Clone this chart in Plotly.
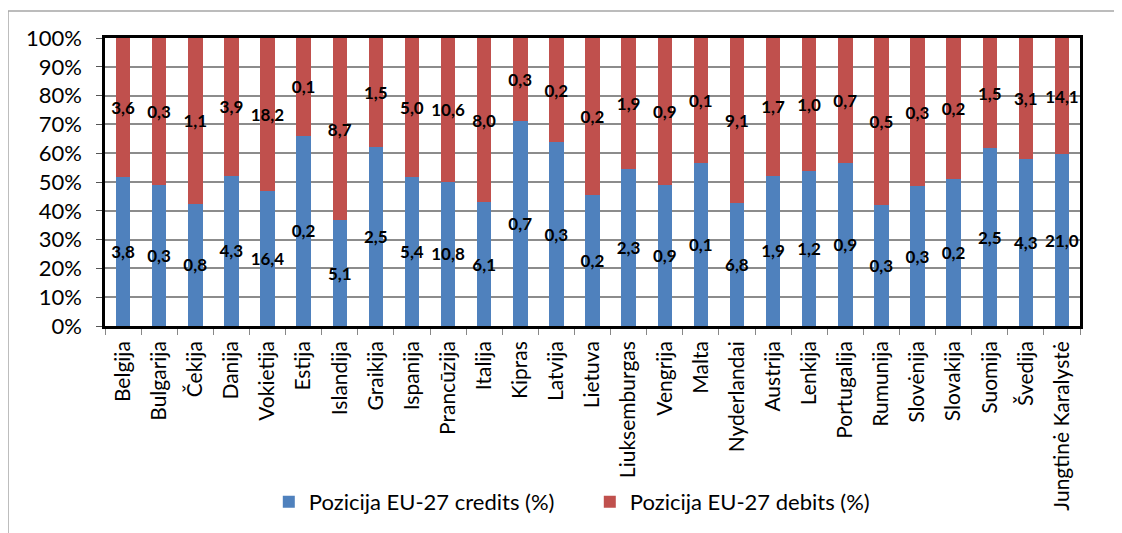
import plotly.graph_objects as go

countries = ["Belgija", "Bulgarija", "Čekija", "Danija", "Vokietija", "Estija", "Islandija",
             "Graikija", "Ispanija", "Prancūzija", "Italija", "Kipras", "Latvija", "Lietuva",
             "Liuksemburgas", "Vengrija", "Malta", "Nyderlandai", "Austrija", "Lenkija",
             "Portugalija", "Rumunija", "Slovėnija", "Slovakija", "Suomija", "Švedija",
             "Jungtinė Karalystė"]

# bar heights (% share)
credit_share = [51.6, 49.0, 42.4, 52.2, 47.0, 66.1, 36.8, 62.2, 51.6, 50.1, 43.0, 71.1, 63.8, 45.4,
                54.4, 49.1, 56.5, 42.6, 52.2, 53.9, 56.5, 42.0, 48.6, 50.9, 61.7, 58.1, 59.7]
debit_share = [48.4, 51.0, 57.6, 47.8, 53.0, 33.9, 63.2, 37.8, 48.4, 49.9, 57.0, 28.9, 36.2, 54.6,
               45.6, 50.9, 43.5, 57.4, 47.8, 46.1, 43.5, 58.0, 51.4, 49.1, 38.3, 41.9, 40.3]

# data labels shown on the bars
credit_values = [3.8, 0.3, 0.8, 4.3, 16.4, 0.2, 5.1, 2.5, 5.4, 10.8, 6.1, 0.7, 0.3, 0.2,
                 2.3, 0.9, 0.1, 6.8, 1.9, 1.2, 0.9, 0.3, 0.3, 0.2, 2.5, 4.3, 21.0]
debit_values = [3.6, 0.3, 1.1, 3.9, 18.2, 0.1, 8.7, 1.5, 5.0, 10.6, 8.0, 0.3, 0.2, 0.2,
                1.9, 0.9, 0.1, 9.1, 1.7, 1.0, 0.7, 0.5, 0.3, 0.2, 1.5, 3.1, 14.1]

series_names = ["Pozicija EU-27 credits (%)", "Pozicija EU-27 debits (%)"]
colors = ["#4F81BD", "#C0504D"]

FONT = "Lato, 'Noto Sans', sans-serif"

fig = go.Figure()
for name, share, vals, col in [(series_names[0], credit_share, credit_values, colors[0]),
                               (series_names[1], debit_share, debit_values, colors[1])]:
    fig.add_trace(go.Bar(
        x=countries, y=share, name=name,
        marker=dict(color=col, line=dict(width=0)),
        customdata=vals,
        texttemplate="<b>%{customdata:.1f}</b>",
        textposition="inside", insidetextanchor="middle",
        textangle=0, constraintext="none",
        insidetextfont=dict(family=FONT, size=17, color="black"),
        cliponaxis=False,
    ))

fig.update_layout(
    width=1122, height=533,
    barmode="stack", bargap=0.6,
    separators=", ",
    paper_bgcolor="white", plot_bgcolor="white",
    margin=dict(l=97, r=50, t=30, b=215, autoexpand=False),
    font=dict(family=FONT, size=20, color="black"),
    legend=dict(orientation="h", x=0.168, y=-0.611, xanchor="left", yanchor="middle",
                traceorder="normal",
                font=dict(size=22), entrywidth=276, entrywidthmode="pixels",
                itemclick=False, bgcolor="rgba(0,0,0,0)"),
    showlegend=True,
    shapes=[
        dict(type="line", xref="paper", yref="paper", x0=-0.0995, x1=-0.0995, y0=1.094, y1=-1.0,
             line=dict(color="#A6A6A6", width=1.5)),
        dict(type="line", xref="paper", yref="paper", x0=-0.0995, x1=1.1, y0=1.094, y1=1.094,
             line=dict(color="#A6A6A6", width=1.5)),
    ],
)
fig.update_yaxes(range=[0, 100], dtick=10, ticksuffix="%", showgrid=True,
                 gridcolor="#8C8C8C", gridwidth=1.5, ticks="outside", ticklen=6,
                 tickcolor="#555", showline=True, linecolor="black", linewidth=2.5, mirror=True,
                 ticklabelstandoff=10, zeroline=False, fixedrange=True, automargin=False,
                 tickfont=dict(size=22))
fig.update_xaxes(tickangle=-90, ticks="outside", tickson="boundaries", ticklen=6,
                 tickcolor="#888", showline=True, linecolor="black", linewidth=2.5, mirror=True,
                 ticklabelstandoff=4, fixedrange=True, automargin=False,
                 tickfont=dict(size=21))

fig.write_html("out.html")
